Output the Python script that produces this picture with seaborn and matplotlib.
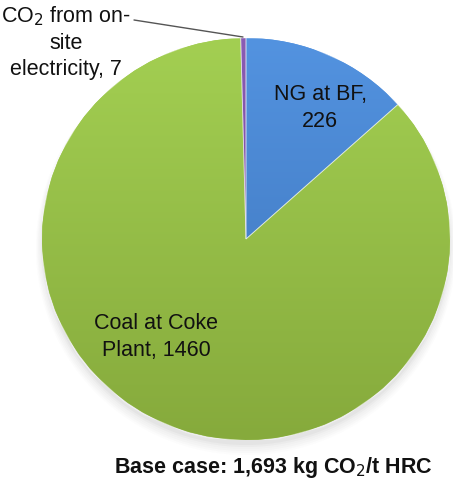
import numpy as np
import matplotlib
matplotlib.use("Agg")
import matplotlib.pyplot as plt
from matplotlib.colors import LinearSegmentedColormap
from matplotlib.patches import Ellipse
import seaborn as sns

# CO2 sources for the base case (kg CO2 / t HRC)
sources = ["NG at BF", "Coal at Coke Plant", "CO$_2$ from on-site electricity"]
emissions = [226, 1460, 7]
label_texts = ["NG at BF,\n226", "Coal at Coke\nPlant, 1460", "CO$_2$ from on-\nsite\nelectricity, 7"]
total_label = "Base case: 1,693 kg CO$_2$/t HRC"

# top / bottom shades of each wedge
top_colors = ["#5393e0", "#a3cf52", "#8a5cb4"]
bottom_colors = ["#3c72b8", "#86aa3c", "#6a3f92"]

sns.set_theme(style="white")
plt.rcParams["font.family"] = ["Liberation Sans", "DejaVu Sans"]

W, H = 453, 484
fig = plt.figure(figsize=(W / 100, H / 100), dpi=100)
fig.patch.set_facecolor("white")

cx, cy, rx, ry = 246, 239, 204, 201
ax = fig.add_axes([(cx - rx) / W, (H - cy - ry) / H, 2 * rx / W, 2 * ry / H])
ax.set_xlim(-1, 1)
ax.set_ylim(-1, 1)
ax.set_aspect("auto")
ax.axis("off")

# soft drop shadow beneath the pie
for i, a in enumerate(np.linspace(0.05, 0.015, 6)):
    ax.add_patch(Ellipse((0, -0.025 - 0.004 * i), 2.0 + 0.012 * i, 2.0 + 0.012 * i,
                         facecolor="#777777", edgecolor="none", alpha=a, zorder=0,
                         clip_on=False))

wedges, _ = ax.pie(emissions, startangle=90, counterclock=False, radius=1,
                   colors=top_colors,
                   wedgeprops=dict(edgecolor="none", linewidth=0))

grad = np.linspace(0, 1, 256).reshape(-1, 1)
for w, c0, c1 in zip(wedges, top_colors, bottom_colors):
    w.set_zorder(1)
    cmap = LinearSegmentedColormap.from_list("shade", [c0, c1])
    # row 0 (light shade) sits at the top of the pie
    im = ax.imshow(grad, cmap=cmap, extent=(-1, 1, -1, 1), origin="upper",
                   aspect="auto", zorder=2, interpolation="bilinear")
    im.set_clip_path(w)

# thin light outline along the wedge borders
for w in wedges:
    ax.add_patch(plt.Polygon(w.get_path().vertices, closed=True, fill=False,
                             edgecolor="#ffffff", linewidth=0.6, alpha=0.5,
                             zorder=3, transform=w.get_transform()))
ax.set_xlim(-1, 1)
ax.set_ylim(-1, 1)

def fx(px):
    return px / W

def fy(py):
    return 1 - py / H

fs = 15.5
ls = 1.32
fig.text(fx(320), fy(108), label_texts[0], ha="center", va="center",
         fontsize=fs, color="#111111", linespacing=ls)
fig.text(fx(156), fy(337), label_texts[1], ha="center", va="center",
         fontsize=fs, color="#111111", linespacing=ls)
fig.text(fx(66), fy(42), label_texts[2], ha="center", va="center",
         fontsize=fs, color="#111111", linespacing=ls)

# leader line to the small electricity wedge
fig.add_artist(plt.Line2D([fx(134), fx(243)], [fy(20), fy(37)],
                          color="#555555", linewidth=1.0))

fig.text(fx(273), fy(468), total_label, ha="center", va="center",
         fontsize=fs, fontweight="bold", color="#111111")

fig.savefig("out.png", dpi=100, facecolor="white")
